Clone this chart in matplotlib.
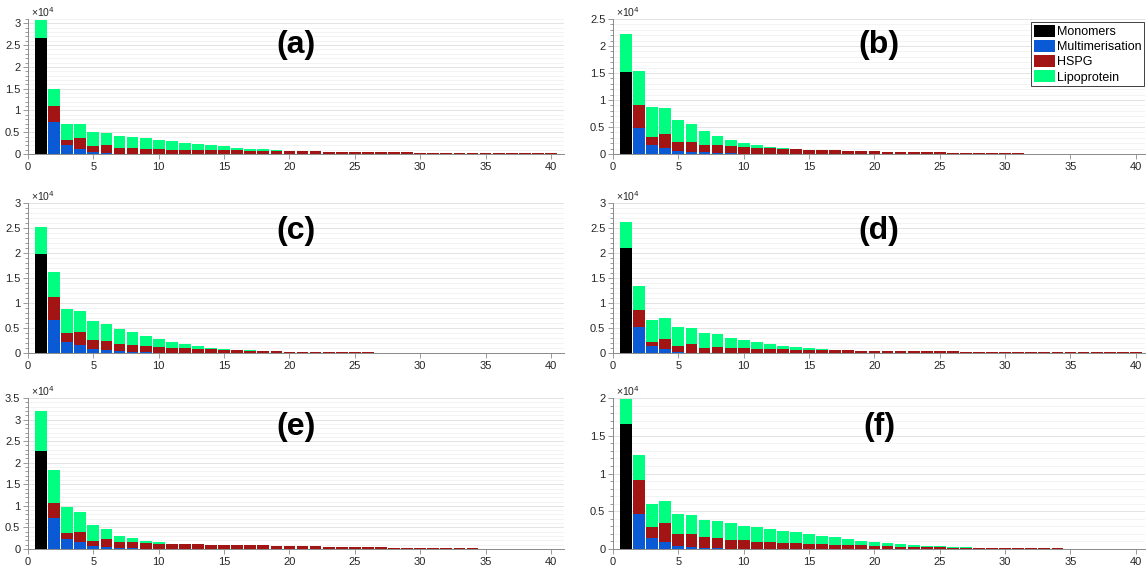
import numpy as np
import matplotlib
matplotlib.use("Agg")
import matplotlib.pyplot as plt
from matplotlib.ticker import MultipleLocator, FuncFormatter

plt.rcParams['font.family'] = ['Liberation Sans', 'DejaVu Sans']

# cluster size 1..40
sizes = np.arange(1, 41)
series_names = ['Monomers', 'Multimerisation', 'HSPG', 'Lipoprotein']
series_colors = ['#000000', '#0a5ad6', '#a31515', '#00ff80']
panel_labels = ['(a)', '(b)', '(c)', '(d)', '(e)', '(f)']


def pad(vals):
    return list(vals) + [0] * (40 - len(vals))


# ---- panel (a)
mono_a = pad([26600])
multi_a = pad([0, 7300, 2100, 1200, 500, 300, 100, 50, 30, 20, 10])
hspg_a = pad([0, 3700, 1200, 2500, 1400, 1700, 1350, 1400, 1170, 1130, 990, 1000, 920, 900,
              850, 830, 770, 750, 700, 680, 620, 580, 550, 520, 490, 460, 430, 400, 370, 340,
              310, 290, 260, 240, 220, 200, 180, 160, 140, 130])
lipo_a = pad([4200, 3900, 3600, 3200, 3150, 2900, 2750, 2550, 2400, 2150, 1900, 1600, 1380,
              1100, 900, 620, 430, 300, 200, 70, 40, 20])

# ---- panel (b)
mono_b = pad([15200])
multi_b = pad([0, 4900, 1700, 1100, 550, 450, 300, 200, 120, 60, 30, 10])
hspg_b = pad([0, 4100, 1500, 2600, 1700, 1800, 1450, 1500, 1380, 1240, 1170, 1090, 1000, 900,
              800, 750, 700, 620, 550, 500, 450, 420, 380, 340, 300, 260, 220, 190, 160, 130,
              110, 90, 70, 60, 50, 40, 30, 30, 20, 20])
lipo_b = pad([7000, 6300, 5500, 4800, 4050, 3250, 2450, 1700, 1100, 750, 400, 250, 50, 50])

# ---- panel (c)
mono_c = pad([19800])
multi_c = pad([0, 6600, 2300, 1650, 850, 650, 350, 270, 150, 100, 80, 70, 60, 50, 40, 40,
               30, 30, 20, 20])
hspg_c = pad([0, 4600, 1750, 2600, 1750, 1750, 1500, 1430, 1300, 1150, 970, 860, 740, 680,
              560, 490, 430, 370, 330, 280, 250, 220, 190, 160, 140, 120, 100, 80, 60, 50,
              40, 30, 20, 20, 10])
lipo_c = pad([5500, 5100, 4700, 4250, 3850, 3450, 2950, 2500, 2000, 1600, 1150, 870, 600,
              320, 250, 130, 40, 20])

# ---- panel (d)
mono_d = pad([21100])
multi_d = pad([0, 5250, 1350, 750, 300, 100, 40, 20])
hspg_d = pad([0, 3400, 900, 2100, 1150, 1650, 1060, 1180, 1000, 1000, 860, 800, 730, 660,
              600, 600, 530, 520, 460, 440, 420, 400, 380, 360, 340, 320, 300, 280, 260, 250,
              240, 220, 210, 200, 190, 170, 160, 150, 130, 120])
lipo_d = pad([5200, 4800, 4450, 4200, 3750, 3350, 3000, 2600, 2100, 1700, 1340, 1000, 670,
              470, 330, 200, 130, 80, 20])

# ---- panel (e)
mono_e = pad([22800])
multi_e = pad([0, 7200, 2400, 1550, 800, 550, 300, 200, 100, 50, 30, 20])
hspg_e = pad([0, 3350, 1250, 2350, 1050, 1700, 1400, 1450, 1200, 1200, 1120, 1130, 1100,
              1000, 1000, 930, 850, 850, 780, 700, 650, 600, 560, 510, 470, 420, 380, 340,
              300, 260, 220, 180, 150, 120, 100, 80, 60, 50, 40, 30])
lipo_e = pad([9200, 7750, 6200, 4700, 3800, 2350, 1400, 850, 550, 300, 100, 20])

# ---- panel (f)
mono_f = pad([16500])
multi_f = pad([0, 4700, 1450, 900, 400, 270, 130, 100, 50, 30, 20, 10])
hspg_f = pad([0, 4500, 1450, 2550, 1550, 1780, 1420, 1350, 1200, 1120, 960, 920, 800, 760,
              710, 670, 580, 530, 490, 400, 350, 300, 270, 220, 200, 180, 170, 150, 130, 120,
              100, 90, 80, 70, 60, 50, 40, 30, 30, 20])
lipo_f = pad([3400, 3200, 3000, 2850, 2750, 2500, 2350, 2250, 2150, 1950, 1920, 1740, 1600,
              1440, 1290, 1110, 980, 810, 620, 580, 450, 370, 260, 230, 160, 90, 40, 10])

panels = [
    (mono_a, multi_a, hspg_a, lipo_a),
    (mono_b, multi_b, hspg_b, lipo_b),
    (mono_c, multi_c, hspg_c, lipo_c),
    (mono_d, multi_d, hspg_d, lipo_d),
    (mono_e, multi_e, hspg_e, lipo_e),
    (mono_f, multi_f, hspg_f, lipo_f),
]
y_tops = [31000, 25000, 30000, 30000, 35000, 20000]

W, H = 1146, 569
fig = plt.figure(figsize=(W / 100, H / 100), dpi=100)

# axes boxes in pixels: left, right, xmax / top, bottom
col_x = [(28, 564, 41.0), (613, 1145, 40.7)]
row_y = [(19, 154), (203, 353), (398, 549)]

axes_color = '#8a8a8a'
text_color = '#262626'

for i, (data, ytop) in enumerate(zip(panels, y_tops)):
    r, c = divmod(i, 2)
    x0, x1, xmax = col_x[c]
    y0, y1 = row_y[r]
    ax = fig.add_axes([x0 / W, 1 - y1 / H, (x1 - x0) / W, (y1 - y0) / H])

    bottom = np.zeros(len(sizes))
    for vals, name, col in zip(data, series_names, series_colors):
        vals = np.array(vals, dtype=float)
        ax.bar(sizes, vals, bottom=bottom, width=0.9, color=col, label=name,
               edgecolor='none', zorder=3)
        bottom += vals

    ax.set_xlim(0, xmax)
    ax.set_ylim(0, ytop)
    ax.xaxis.set_major_locator(MultipleLocator(5))
    ax.yaxis.set_major_locator(MultipleLocator(5000))
    ax.yaxis.set_minor_locator(MultipleLocator(1000))
    ax.yaxis.set_major_formatter(FuncFormatter(lambda v, p: '%g' % (v / 1e4)))

    ax.grid(axis='y', which='major', color='#dedede', linewidth=0.6, zorder=0)
    ax.grid(axis='y', which='minor', color='#efefef', linewidth=0.5, zorder=0)
    for s in ['top', 'right']:
        ax.spines[s].set_visible(False)
    for s in ['left', 'bottom']:
        ax.spines[s].set_color(axes_color)
        ax.spines[s].set_linewidth(0.7)
    ax.tick_params(which='both', direction='out', colors=axes_color, labelcolor=text_color,
                   labelsize=8, width=0.6)
    ax.tick_params(which='major', length=3.5, pad=2)
    ax.tick_params(which='minor', length=2)

    ax.text(0.005, 1.0, '×10$^{4}$', transform=ax.transAxes, fontsize=7.5,
            color=text_color, ha='left', va='bottom')
    ax.text(0.5, 0.81, panel_labels[i], transform=ax.transAxes, fontsize=23,
            fontweight='bold', ha='center', va='center')

    if i == 1:
        leg = ax.legend(loc='upper right', bbox_to_anchor=(0.999, 0.975), borderaxespad=0,
                        fontsize=9, fancybox=False, framealpha=1, edgecolor='#404040',
                        handlelength=1.7, handleheight=1.1, handletextpad=0.2,
                        labelspacing=0.15, borderpad=0.2)
        leg.get_frame().set_linewidth(0.7)

fig.savefig('out.png', dpi=100)
